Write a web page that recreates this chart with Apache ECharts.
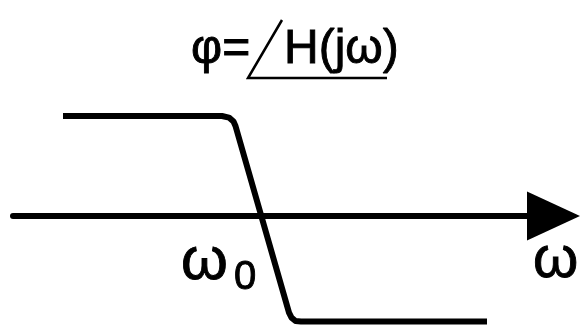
<!DOCTYPE html>
<html>
<head>
<meta charset="utf-8">
<script src="https://cdn.jsdelivr.net/npm/echarts@6/dist/echarts.min.js"></script>
<style>
  html, body { margin: 0; padding: 0; background: #fff; }
  #chart { width: 582px; height: 326px; }
</style>
</head>
<body>
<div id="chart"></div>
<script>
// Idealised phase response of H(jω): flat, a steep drop through ω0, flat again.
const omega = [0.63, 2.22, 2.29, 2.335, 2.355, 2.89, 2.915, 2.955, 3.01, 4.87];
const phase = [90, 90, 88.6, 85, 81, -87, -91.5, -94.5, -95, -95];

const titleLeft = 'φ=';
const titleRight = 'H(jω)';
const axisName = 'ω';
const cornerName = 'ω';
const cornerSub = '0';

const ink = '#000';
const font = '"Liberation Sans", Arial, sans-serif';

// Slightly heavier glyphs: fill plus a thin outline in the same colour.
function label(text, x, y, size) {
  return {
    type: 'text',
    style: {
      text, x, y,
      font: size + 'px ' + font,
      fill: ink, stroke: ink, lineWidth: 0.9,
      align: 'left', verticalAlign: 'middle'
    }
  };
}

const chart = echarts.init(document.getElementById('chart'), null, { renderer: 'canvas' });

chart.setOption({
  animation: false,
  backgroundColor: '#fff',
  grid: { left: 13, right: 28.5, top: 0, bottom: 0, containLabel: false },
  xAxis: {
    type: 'value',
    min: 0.13,
    max: 5.535,
    axisLine: {
      show: true,
      onZero: true,
      symbol: ['none', 'triangle'],
      symbolSize: [49, 53],
      lineStyle: { color: ink, width: 6 }
    },
    axisTick: { show: false },
    axisLabel: { show: false },
    splitLine: { show: false }
  },
  yAxis: {
    type: 'value',
    min: -99,
    max: 194.4,
    axisLine: { show: false },
    axisTick: { show: false },
    axisLabel: { show: false },
    splitLine: { show: false }
  },
  series: [{
    type: 'line',
    data: omega.map((w, i) => [w, phase[i]]),
    symbol: 'none',
    lineStyle: { color: ink, width: 6, join: 'round', cap: 'butt' },
    z: 3
  }],
  graphic: [
    label(titleLeft, 191, 50, 48),
    {
      type: 'polyline',
      shape: { points: [[282, 20], [248, 78], [387, 78]] },
      style: { stroke: ink, lineWidth: 2.5, fill: null }
    },
    label(titleRight, 284, 50, 48),
    label(cornerName, 181, 262, 60),
    label(cornerSub, 234, 278, 40),
    label(axisName, 533, 261, 58)
  ]
});
</script>
</body>
</html>
